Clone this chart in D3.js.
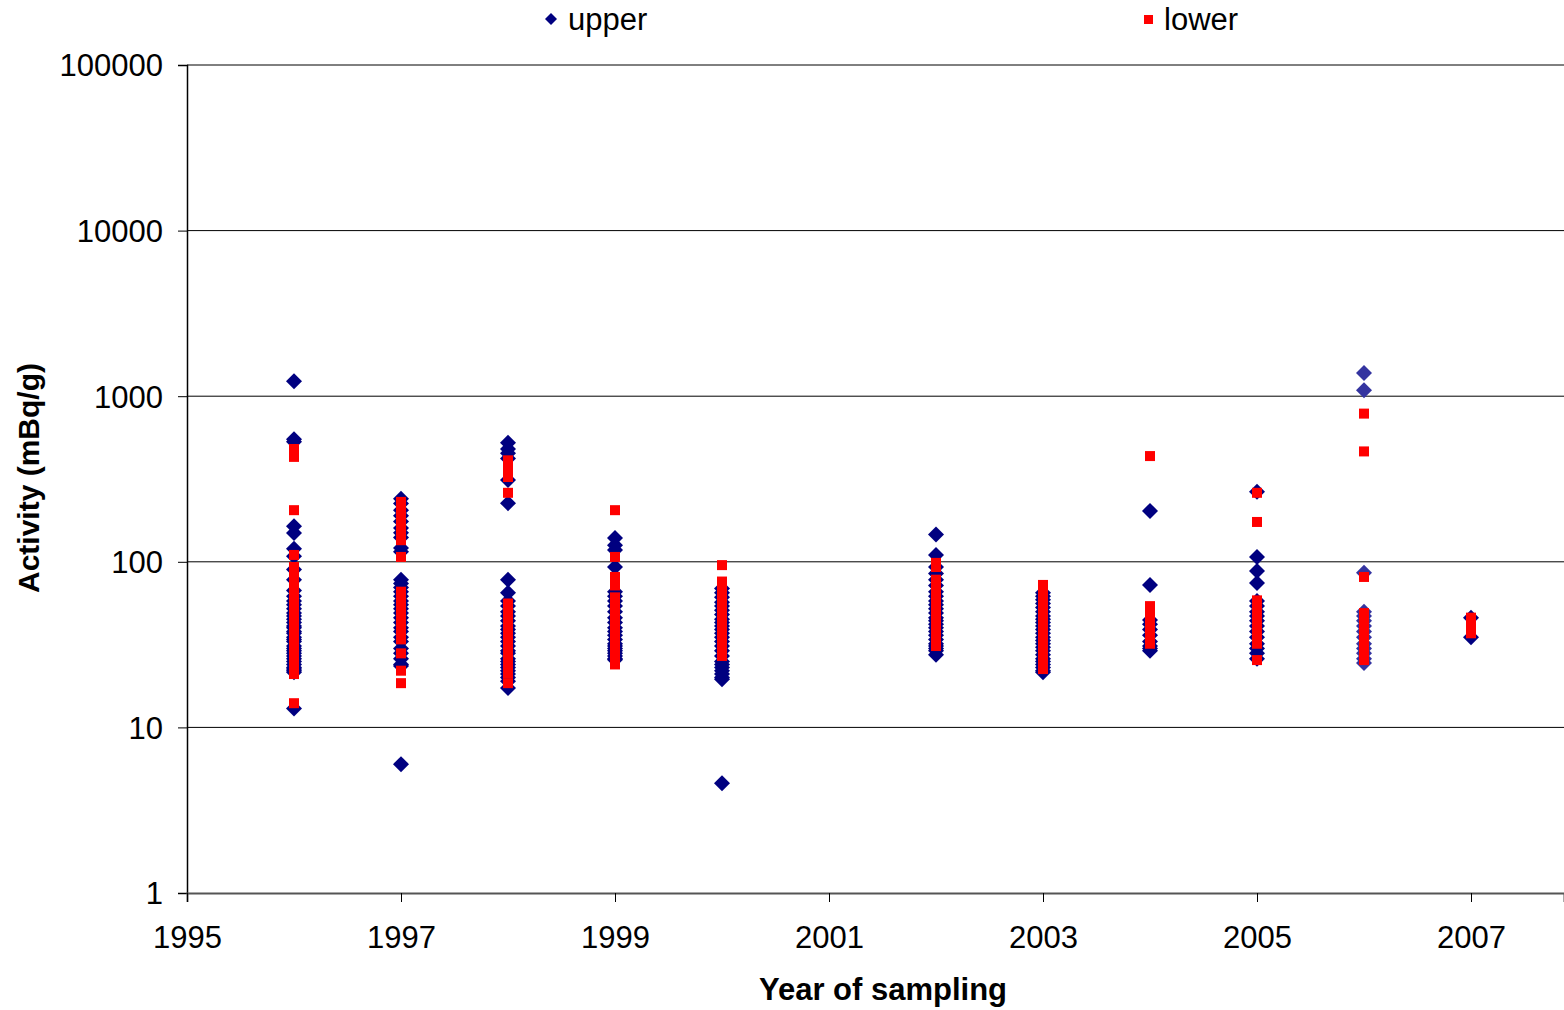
<!DOCTYPE html>
<html>
<head>
<meta charset="utf-8">
<script src="https://cdn.jsdelivr.net/npm/d3@7"></script>
<style>
  body { margin: 0; background: #fff; }
  svg text { font-family: "Liberation Sans", Arial, sans-serif; fill: #000; }
</style>
</head>
<body>
<svg id="chart" width="1564" height="1010"></svg>
<script>
const years = [1996, 1997, 1998, 1999, 2000, 2002, 2003, 2004, 2005, 2007];

const upper = [
  [1230, 550, 530, 164, 149, 120, 108, 90, 78, 67, 62, 58, 55, 52, 49, 47, 45, 43, 41, 40, 38, 37, 35, 34, 33, 31, 30, 29, 28, 27, 26, 25, 24, 23, 22.5, 22, 21.5, 13],
  [240, 225, 205, 190, 175, 160, 150, 140, 121, 115, 78, 74, 70, 66, 62, 58, 55, 52, 49, 46, 43, 40, 38, 35, 33, 30, 28, 26, 24, 23.5, 6],
  [523, 480, 452, 420, 312, 226, 78, 65, 58, 54, 50, 47, 44, 41, 39, 37, 35, 33, 31, 29, 28, 26, 25, 24, 23, 22, 21, 20, 19, 17.3],
  [139, 126, 118, 93, 66, 62, 58, 54, 50, 46, 43, 40, 38, 36, 34, 32, 31, 30, 29, 28, 27, 26, 25.6],
  [69, 65, 61, 57, 54, 51, 48, 45, 43, 41, 39, 37, 35, 33, 31, 29, 27, 25, 24, 23, 22, 21, 20, 19.5, 4.6],
  [146, 110, 93, 85, 78, 72, 66, 62, 58, 55, 52, 49, 46, 44, 42, 40, 38, 36, 34, 32, 31, 30, 29, 27.5],
  [65, 62, 59, 56, 53, 50, 47, 45, 43, 41, 39, 37, 35, 33.5, 32, 30.5, 29, 27.5, 26, 25, 24, 23, 22, 21.5],
  [203, 72.5, 44.5, 42, 39, 36, 33, 31, 30, 29],
  [265, 107, 88, 74.5, 58, 54, 50, 47, 44, 41, 38, 35, 32, 30, 28, 26],
  [46, 35]
];

const lower = [
  [480, 450, 430, 205, 110, 93, 88, 84, 80, 76, 72, 65, 62, 59, 56, 53, 50, 48, 46, 44, 42, 40, 38, 36, 34.5, 33, 31.5, 30, 29, 27.5, 26, 25, 24, 23, 22, 21, 14],
  [230, 215, 200, 185, 170, 158, 145, 135, 107, 66, 62, 58, 55, 52, 49, 46, 43, 41, 38, 36, 34, 28, 22, 18.5],
  [410, 380, 350, 325, 261, 56, 53, 50, 47, 44, 42, 40, 38, 36, 34, 32, 30, 29, 27.5, 26, 25, 24, 23, 22, 21.2, 18.5],
  [205, 107, 81, 77, 72, 61, 57, 53, 51, 46, 43, 41, 39, 37, 35, 33, 31.5, 30, 28.5, 27, 26, 25, 24],
  [95.5, 76, 72, 68, 64, 60, 57, 54, 51, 48, 46, 44, 42, 40, 38, 36, 34, 32, 30, 28, 27],
  [98.5, 93, 78, 74, 70, 66, 62, 58, 55, 52, 49, 47, 45, 43, 41, 39, 37, 35.5, 34, 32.5, 31],
  [72.5, 68, 64, 60, 57, 54, 51, 48, 46, 44, 42, 40, 38, 36, 34, 32.5, 31, 29.5, 28, 27, 26, 25, 24, 23, 22.5],
  [435, 54, 52, 46, 43, 40, 38, 36, 34, 33, 32],
  [261, 174, 58.5, 55, 52, 49, 46, 43, 40, 38, 36, 34, 32, 25.5],
  [46, 44, 42, 40, 38, 37]
];

// 2006 "upper" points are a slightly lighter blue in the original
const year2006 = 2006;
const upper2006 = [1380, 1085, 86, 50, 47, 44, 41, 38, 35, 32, 30, 28, 26, 24.5];
const lower2006 = [785, 464, 81, 49, 46, 43, 40, 37, 34, 31, 29, 27, 25.5];

const xTicks = [1995, 1997, 1999, 2001, 2003, 2005, 2007];
const yTicks = [1, 10, 100, 1000, 10000, 100000];

const margin = { top: 65, right: 0, bottom: 117, left: 187 };
const width = 1564 - margin.left - margin.right;
const height = 1010 - margin.top - margin.bottom;

const svg = d3.select("#chart");
const g = svg.append("g").attr("transform", "translate(" + margin.left + "," + margin.top + ")");

const x = d3.scaleLinear().domain([1995, 1995 + width / 107]).range([0, width]);
const y = d3.scaleLog().domain([1, 100000]).range([height, 0]);

// gridlines
g.selectAll(".grid")
  .data(yTicks.slice(1))
  .enter()
  .append("line")
  .attr("x1", 0)
  .attr("x2", width)
  .attr("y1", (d) => y(d))
  .attr("y2", (d) => y(d))
  .attr("stroke", "#000")
  .attr("stroke-width", 1);

// Y axis
const yAxis = d3.axisLeft(y).tickValues(yTicks).tickFormat(d3.format("d")).tickSize(9).tickPadding(15);
g.append("g")
  .call(yAxis)
  .call((s) => s.select(".domain").attr("stroke", "#000").attr("stroke-width", 1.5))
  .call((s) => s.selectAll("text").attr("font-size", "31px").attr("dy", "0.35em"));

// X axis
const xAxis = d3.axisBottom(x).tickValues(xTicks).tickFormat(d3.format("d")).tickSize(9).tickPadding(24);
g.append("g")
  .attr("transform", "translate(0," + height + ")")
  .call(xAxis)
  .call((s) => s.select(".domain").attr("stroke", "#555").attr("stroke-width", 2))
  .call((s) => s.selectAll("text").attr("font-size", "31px"));

const diamond = "M0,-8L8,0L0,8L-8,0Z";

function flatten(list) {
  let out = [];
  list.forEach((vals, i) => vals.forEach((v) => out.push({ year: years[i], value: v })));
  return out;
}

const upperPts = flatten(upper);
const lowerPts = flatten(lower);

// upper series (diamonds)
g.selectAll(".upper")
  .data(upperPts)
  .enter()
  .append("path")
  .attr("d", diamond)
  .attr("transform", (d) => "translate(" + x(d.year) + "," + y(d.value) + ")")
  .attr("fill", "#000080");

g.selectAll(".upper06")
  .data(upper2006)
  .enter()
  .append("path")
  .attr("d", diamond)
  .attr("transform", (d) => "translate(" + x(year2006) + "," + y(d) + ")")
  .attr("fill", "#3434a0");

// lower series (squares)
g.selectAll(".lower")
  .data(lowerPts.concat(lower2006.map((v) => ({ year: year2006, value: v }))))
  .enter()
  .append("rect")
  .attr("x", (d) => x(d.year) - 5)
  .attr("y", (d) => y(d.value) - 5)
  .attr("width", 10)
  .attr("height", 10)
  .attr("fill", "#ff0000");

// axis titles
svg.append("text")
  .attr("x", 883)
  .attr("y", 1000)
  .attr("text-anchor", "middle")
  .attr("font-size", "31px")
  .attr("font-weight", "bold")
  .text("Year of sampling");

svg.append("text")
  .attr("transform", "translate(39,478) rotate(-90)")
  .attr("text-anchor", "middle")
  .attr("font-size", "30px")
  .attr("font-weight", "bold")
  .text("Activity (mBq/g)");

// legend
const legend = svg.append("g");
legend.append("path").attr("d", "M0,-6L6,0L0,6L-6,0Z").attr("transform", "translate(551,19)").attr("fill", "#000080");
legend.append("text").attr("x", 568).attr("y", 19).attr("dy", "0.35em").attr("font-size", "31px").text("upper");
legend.append("rect").attr("x", 1144).attr("y", 15).attr("width", 9).attr("height", 9).attr("fill", "#ff0000");
legend.append("text").attr("x", 1164).attr("y", 19).attr("dy", "0.35em").attr("font-size", "31px").text("lower");
</script>
</body>
</html>
